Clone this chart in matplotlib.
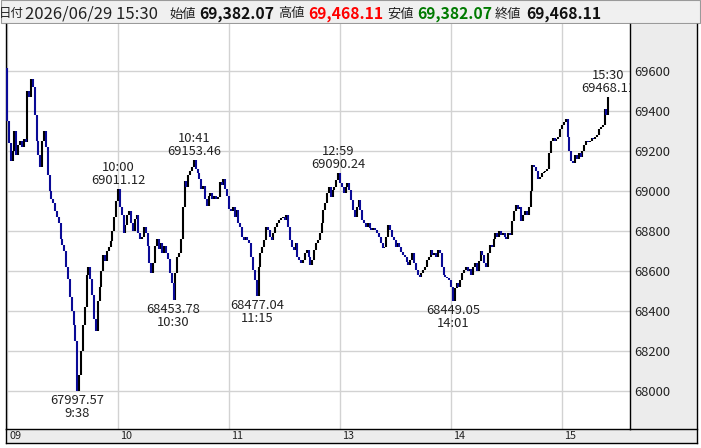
import matplotlib
matplotlib.use("Agg")
import matplotlib.pyplot as plt
from matplotlib.patches import Rectangle
from matplotlib.transforms import blended_transform_factory, offset_copy

plt.rcParams['font.family'] = ['Noto Sans CJK JP', 'DejaVu Sans']

# ---------------- data ----------------
first_open = 69615.0
# 1-minute closes, 09:00-11:29 (index 0..149)
am_closes = [
    69350, 69240, 69150, 69200, 69300, 69180, 69230, 69250, 69220, 69260,
    69245, 69500, 69470, 69560, 69520, 69380, 69250, 69180, 69120, 69250,
    69300, 69220, 69080, 69000, 68960, 68940, 68900, 68870, 68840, 68760,
    68730, 68700, 68620, 68560, 68470, 68400, 68330, 68250, 67997.57, 68080,
    68200, 68330, 68420, 68580, 68620, 68560, 68480, 68360, 68300, 68450,
    68520, 68600, 68680, 68650, 68700, 68720, 68750, 68800, 68870, 68950,
    69011.12, 68920, 68880, 68790, 68830, 68880, 68900, 68840, 68800, 68860,
    68880, 68790, 68760, 68770, 68820, 68790, 68725, 68640, 68590, 68640,
    68725, 68760, 68710, 68740, 68690, 68725, 68690, 68660, 68590, 68540,
    68453.78, 68590, 68670, 68690, 68760, 68920, 69050, 69020, 69080, 69100,
    69120, 69153.46, 69110, 69090, 69060, 69010, 69025, 68960, 68925, 68975,
    68990, 68960, 68975, 68960, 68970, 69045, 69030, 69060, 69010, 68975,
    68910, 68900, 68920, 68870, 68905, 68840, 68820, 68770, 68755, 68770,
    68755, 68740, 68670, 68605, 68555, 68477.04, 68620, 68690, 68720, 68755,
    68820, 68805, 68770, 68755, 68790, 68820, 68840, 68855, 68865, 68870,
]
# 1-minute closes, 12:30-15:24 (index 150..324)
pm_closes = [
    68855, 68880, 68820, 68755, 68720, 68705, 68740, 68670, 68655, 68640,
    68655, 68690, 68705, 68670, 68630, 68655, 68705, 68740, 68755, 68790,
    68840, 68905, 68940, 68990, 69020, 68970, 69005, 69020, 69055, 69090.24,
    69040, 69020, 68990, 69020, 69040, 69005, 68955, 68905, 68870, 68920,
    68955, 68905, 68855, 68840, 68820, 68840, 68815, 68805, 68815, 68805,
    68790, 68770, 68740, 68715, 68720, 68770, 68830, 68805, 68770, 68755,
    68720, 68740, 68720, 68695, 68680, 68670, 68645, 68630, 68655, 68690,
    68640, 68605, 68580, 68570, 68590, 68605, 68620, 68655, 68670, 68705,
    68680, 68690, 68670, 68705, 68690, 68620, 68580, 68570, 68565, 68555,
    68520, 68449.05, 68515, 68540, 68520, 68555, 68590, 68605, 68620, 68600,
    68610, 68580, 68620, 68640, 68600, 68650, 68700, 68680, 68640, 68620,
    68690, 68730, 68720, 68760, 68790, 68770, 68800, 68780, 68790, 68770,
    68760, 68790, 68780, 68850, 68900, 68930, 68910, 68920, 68850, 68880,
    68900, 68880, 68920, 69000, 69130, 69120, 69100, 69060, 69070, 69090,
    69095, 69100, 69110, 69190, 69250, 69265, 69250, 69260, 69270, 69310,
    69330, 69345, 69360, 69270, 69200, 69150, 69140, 69180, 69160, 69190,
    69170, 69200, 69230, 69250, 69245, 69250, 69265, 69260, 69270, 69280,
    69310, 69320, 69330, 69410, 69382.07,
]
close_1530 = [69468.11]

hour_ticks = [0, 60, 120, 180, 240, 300]
hour_labels = ["09", "10", "11", "13", "14", "15"]
y_ticks = [68000, 68200, 68400, 68600, 68800, 69000, 69200, 69400, 69600]

ann_index = [38, 60, 90, 101, 135, 179, 241, 325]
ann_time = ["9:38", "10:00", "10:30", "10:41", "11:15", "12:59", "14:01", "15:30"]
ann_kind = ["low", "high", "low", "high", "low", "high", "low", "high"]

header_date = "2026/06/29 15:30"
header_items = [("始値", "69,382.07", "#111111"),
                ("高値", "69,468.11", "#ff0000"),
                ("安値", "69,382.07", "#007a00"),
                ("終値", "69,468.11", "#111111")]

# ---------------- figure ----------------
W, H = 701, 448
fig = plt.figure(figsize=(W / 100, H / 100), dpi=100)
fig.patch.set_facecolor("white")

def fx(px):
    return px / W

def fy(py):
    return 1 - py / H

PL, PR, PT, PB = 6, 630, 24, 429   # plot area in pixels
RR, BB = 697, 443                  # right / bottom outer edges
HB = 23.5                          # header bottom

panel = "#ececec"
# header band
fig.patches.append(Rectangle((fx(0.5), fy(HB)), fx(700 - 0.5), (HB - 0.5) / H,
                             transform=fig.transFigure, facecolor="#f0f0f0",
                             edgecolor="#9a9a9a", lw=0.8, zorder=-2))
# right price panel
fig.patches.append(Rectangle((fx(PR), fy(BB)), fx(RR - PR), (BB - PT) / H,
                             transform=fig.transFigure, facecolor=panel,
                             edgecolor="none", zorder=-2))
# bottom time band
fig.patches.append(Rectangle((fx(PL), fy(BB)), fx(RR - PL), (BB - PB) / H,
                             transform=fig.transFigure, facecolor=panel,
                             edgecolor="none", zorder=-2))

ax = fig.add_axes([fx(PL), fy(PB), fx(PR - PL), (PB - PT) / H])
ax.set_facecolor("white")

closes = am_closes + pm_closes + close_1530
opens = [first_open] + closes[:-1]
idx = list(range(len(closes)))

px_per_min = 1.85
x0 = (PL - 7) / px_per_min
x1 = x0 + (PR - PL) / px_per_min
y_at71 = 69600
ylo = y_at71 - (PB - 71) * 5
yhi = y_at71 + (71 - PT) * 5
ax.set_xlim(x0, x1)
ax.set_ylim(ylo, yhi)

for yt in y_ticks:
    ax.axhline(yt, color="#d2d2d2", lw=1.0, zorder=1)
for xt in hour_ticks:
    ax.axvline(xt, color="#d2d2d2", lw=1.0, zorder=1)

up_x, up_lo, up_hi, dn_x, dn_lo, dn_hi = [], [], [], [], [], []
for i, o, c in zip(idx, opens, closes):
    if c >= o:
        up_x.append(i); up_lo.append(o); up_hi.append(c)
    else:
        dn_x.append(i); dn_lo.append(c); dn_hi.append(o)
ax.vlines(up_x, up_lo, up_hi, color="#000000", lw=1.5, zorder=3)
ax.vlines(dn_x, dn_lo, dn_hi, color="#0a0a96", lw=1.5, zorder=3)

afont = 9.3
for i, t, k in zip(ann_index, ann_time, ann_kind):
    v = closes[i]
    vs = f"{v:.2f}"
    if k == "high":
        ax.annotate(f"{t}\n{vs}", xy=(i, v), xytext=(0, 2), textcoords="offset pixels",
                    ha="center", va="bottom", fontsize=afont, color="#222222",
                    linespacing=1.0, multialignment="center", clip_on=True, zorder=5)
    else:
        ax.annotate(f"{vs}\n{t}", xy=(i, v), xytext=(0, -3), textcoords="offset pixels",
                    ha="center", va="top", fontsize=afont, color="#222222",
                    linespacing=1.0, multialignment="center", clip_on=True, zorder=5)

# axes styling
ax.set_xticks([])
ax.yaxis.tick_right()
ax.set_yticks(y_ticks)
ax.set_yticklabels([str(v) for v in y_ticks], fontsize=9.3, color="#222222")
ax.tick_params(axis="y", length=0, pad=3)
ax.spines["top"].set_visible(False)
for s in ["left", "right", "bottom"]:
    ax.spines[s].set_color("#000000")
    ax.spines[s].set_linewidth(1.0)

trans = blended_transform_factory(ax.transData, ax.transAxes)
trans = offset_copy(trans, fig=fig, x=2, y=-7, units="dots")
for xt, lab in zip(hour_ticks, hour_labels):
    ax.text(xt, 0, lab, transform=trans, ha="left", va="center",
            fontsize=7.8, color="#222222", clip_on=False)

# outer frame lines of bottom band / right panel
fig.add_artist(plt.Line2D([fx(PL), fx(PL)], [fy(PB), fy(BB)], color="#000000", lw=1.0))
fig.add_artist(plt.Line2D([fx(PL), fx(RR)], [fy(BB), fy(BB)], color="#000000", lw=1.0))
fig.add_artist(plt.Line2D([fx(RR), fx(RR)], [fy(PT), fy(BB)], color="#000000", lw=1.0))
fig.add_artist(plt.Line2D([fx(PR), fx(RR)], [fy(PB), fy(PB)], color="#000000", lw=1.0))

# header text
hy = fy(14)
fig.text(fx(-1), hy, "日付", fontsize=9.0, va="center", ha="left", color="#222222")
fig.text(fx(25), hy, header_date, fontsize=12.0, va="center", ha="left", color="#222222")
lab_x = [169, 278, 387, 495]
val_x = [199, 308, 417, 526]
for (lab, val, col), lx, vx in zip(header_items, lab_x, val_x):
    fig.text(fx(lx), hy, lab, fontsize=9.5, va="center", ha="left", color="#222222")
    fig.text(fx(vx), hy, val, fontsize=11.3, va="center", ha="left", color=col,
             fontweight="bold")

fig.savefig("out.png", dpi=100)
